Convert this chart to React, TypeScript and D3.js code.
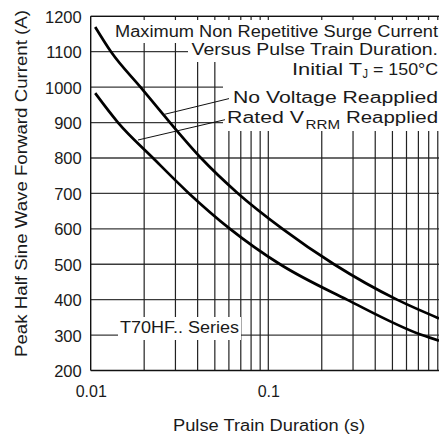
import React, { useEffect, useRef } from "react";
import * as d3 from "d3";

// ---- data ----
const noVoltageT = [0.0106, 0.01301, 0.01908, 0.02796, 0.0418, 0.06751, 0.1202, 0.2344, 0.5305, 0.9145];
const noVoltageI = [1170, 1100, 1000, 900, 800, 700, 600, 500, 400, 347];
const ratedT = [0.0106, 0.01425, 0.02243, 0.03577, 0.06085, 0.1164, 0.2774, 0.7334, 0.9145];
const ratedI = [983, 900, 800, 700, 600, 500, 400, 300, 284];
const yTicks = [200, 300, 400, 500, 600, 700, 800, 900, 1000, 1100, 1200];
const xLabelTicks = [0.01, 0.1];
const xGridTicks = [0.02, 0.03, 0.04, 0.05, 0.06, 0.07, 0.08, 0.09, 0.1, 0.2, 0.3, 0.4, 0.5, 0.6, 0.7, 0.8, 0.9];
const titleLine1 = "Maximum Non Repetitive Surge Current";
const titleLine2 = "Versus Pulse Train Duration.";
const seriesLabel = "T70HF.. Series";
const xAxisTitle = "Pulse Train Duration (s)";
const yAxisTitle = "Peak Half Sine Wave Forward Current (A)";

const FONT = "'Liberation Sans', Arial, Helvetica, sans-serif";
const INK = "#1a1a1a";

export default function App() {
  const ref = useRef<SVGSVGElement>(null);

  useEffect(() => {
    const svg = d3.select(ref.current);
    svg.selectAll("*").remove();

    const x = d3.scaleLog().domain([0.01, 1]).range([90.7, 445.9]);
    const y = d3.scaleLinear().domain([200, 1200]).range([370.5, 16.3]);
    const [x0, x1] = x.range();
    const [yB, yT] = y.range();

    const g = svg.append("g");

    // horizontal grid
    g.selectAll("line.h")
      .data(yTicks.slice(1))
      .join("line")
      .attr("x1", x0).attr("x2", x1)
      .attr("y1", (d) => y(d)).attr("y2", (d) => y(d))
      .attr("stroke", "#3a3a3a").attr("stroke-width", 1.3);

    // vertical grid
    g.selectAll("line.v")
      .data(xGridTicks)
      .join("line")
      .attr("x1", (d) => x(d)).attr("x2", (d) => x(d))
      .attr("y1", yT).attr("y2", yB)
      .attr("stroke", "#222").attr("stroke-width", 1.2);

    // frame
    g.append("line").attr("x1", x0).attr("x2", x0).attr("y1", yT).attr("y2", yB)
      .attr("stroke", "#111").attr("stroke-width", 1.4);
    g.append("line").attr("x1", x0).attr("x2", x1).attr("y1", yB).attr("y2", yB)
      .attr("stroke", "#111").attr("stroke-width", 1.4);
    g.append("line").attr("x1", x0).attr("x2", x1).attr("y1", yT).attr("y2", yT)
      .attr("stroke", "#111").attr("stroke-width", 1.2);

    // white label backgrounds
    const boxes = [
      [108, 20, 439, 43],
      [188, 43, 439, 62],
      [223, 62, 439, 131],
      [118, 317, 241, 340],
    ];
    g.selectAll("rect.bg")
      .data(boxes)
      .join("rect")
      .attr("x", (d) => d[0]).attr("y", (d) => d[1])
      .attr("width", (d) => d[2] - d[0]).attr("height", (d) => d[3] - d[1])
      .attr("fill", "#fff");

    // curves
    const line = d3
      .line<[number, number]>()
      .x((d) => x(d[0]))
      .y((d) => y(d[1]))
      .curve(d3.curveMonotoneX);
    const noV: [number, number][] = noVoltageT.map((t, i) => [t, noVoltageI[i]]);
    const rated: [number, number][] = ratedT.map((t, i) => [t, ratedI[i]]);
    [noV, rated].forEach((pts) => {
      g.append("path")
        .attr("d", line(pts) as string)
        .attr("fill", "none")
        .attr("stroke", "#000")
        .attr("stroke-width", 2.7)
        .attr("stroke-linejoin", "round");
    });

    // leader lines
    g.append("line").attr("x1", 163).attr("y1", 114.7).attr("x2", 229).attr("y2", 98.6)
      .attr("stroke", "#111").attr("stroke-width", 1);
    g.append("line").attr("x1", 138).attr("y1", 140).attr("x2", 225).attr("y2", 119.7)
      .attr("stroke", "#111").attr("stroke-width", 1);

    const txt = (s: string, tx: number, ty: number, size: number, len?: number) => {
      const t = g.append("text")
        .attr("x", tx).attr("y", ty)
        .attr("font-family", FONT).attr("font-size", size)
        .attr("fill", INK)
        .text(s);
      if (len) t.attr("textLength", len).attr("lengthAdjust", "spacingAndGlyphs");
      return t;
    };

    txt(titleLine1, 115, 36.5, 16, 323);
    txt(titleLine2, 191.5, 55, 16, 246.5);
    txt("Initial T", 292, 75, 16, 70);
    txt("J", 362.5, 78.3, 13, 5.5);
    txt("= 150°C", 373, 75, 16, 65);
    txt("No Voltage Reapplied", 233, 102.7, 16, 205);
    txt("Rated V", 227, 122.7, 16, 77);
    txt("RRM", 305.5, 128.5, 13.5, 34.5);
    txt("Reapplied", 346, 122.7, 16, 92);
    txt(seriesLabel, 120, 333.3, 16, 119);
    txt(xAxisTitle, 173, 430.7, 16, 192);

    g.append("text")
      .attr("transform", "translate(26.5,183.5) rotate(-90)")
      .attr("text-anchor", "middle")
      .attr("font-family", FONT).attr("font-size", 16)
      .attr("fill", INK)
      .attr("textLength", 347).attr("lengthAdjust", "spacingAndGlyphs")
      .text(yAxisTitle);

    // axes (labels only)
    const ya = g.append("g").attr("transform", `translate(${x0},0)`)
      .call(d3.axisLeft(y).tickValues(yTicks).tickSize(0).tickPadding(9).tickFormat((d) => String(d)));
    ya.select(".domain").remove();
    ya.selectAll("text").attr("font-family", FONT).attr("font-size", 16.5).attr("fill", INK).attr("dy", "0.36em");

    const xa = g.append("g").attr("transform", `translate(0,${yB})`)
      .call(d3.axisBottom(x).tickValues(xLabelTicks).tickSize(0).tickPadding(15).tickFormat((d) => String(d)));
    xa.select(".domain").remove();
    xa.selectAll("text").attr("font-family", FONT).attr("font-size", 16).attr("fill", INK);
  }, []);

  return (
    <svg
      ref={ref}
      width={439}
      height={434}
      style={{ position: "fixed", left: 0, top: 0, background: "#fff" }}
    />
  );
}
